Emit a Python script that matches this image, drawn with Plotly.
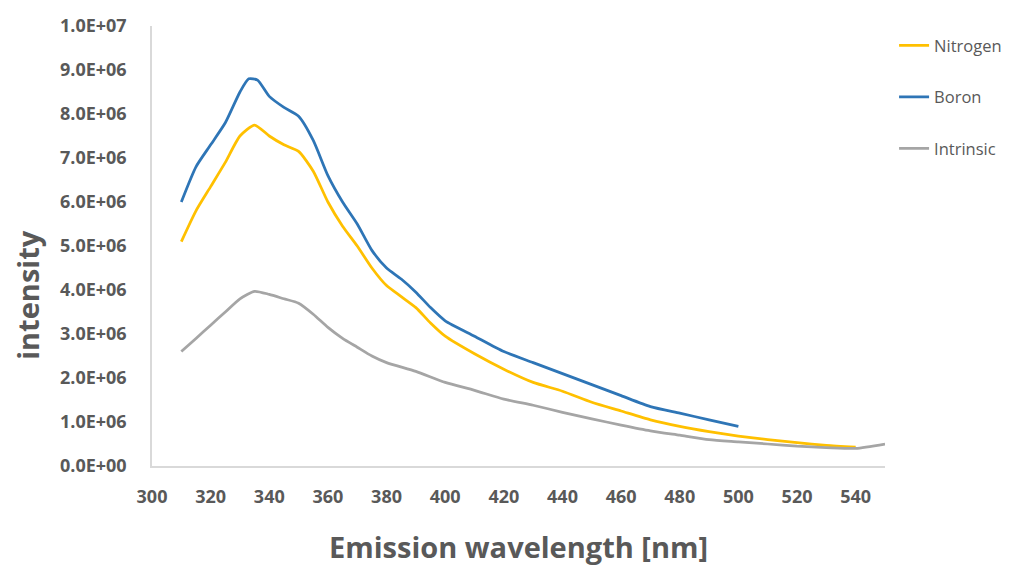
import plotly.graph_objects as go

# Data
wl_boron = [310, 315, 320, 325, 330, 333, 336, 340, 345, 350, 355, 360, 365, 370, 375, 380, 385, 390, 395, 400,
            410, 420, 430, 440, 450, 460, 470, 480, 490, 500]
boron = [6.0e6, 6.8e6, 7.3e6, 7.8e6, 8.5e6, 8.8e6, 8.77e6, 8.4e6, 8.15e6, 7.95e6, 7.4e6, 6.6e6, 6.0e6, 5.5e6,
         4.9e6, 4.5e6, 4.25e6, 3.95e6, 3.6e6, 3.3e6, 2.95e6, 2.6e6, 2.35e6, 2.1e6, 1.85e6, 1.6e6, 1.35e6,
         1.2e6, 1.05e6, 0.9e6]

wl_nitrogen = [310, 315, 320, 325, 330, 335, 340, 345, 350, 355, 360, 365, 370, 375, 380, 385, 390, 395, 400,
               410, 420, 430, 440, 450, 460, 470, 480, 490, 500, 510, 520, 530, 540]
nitrogen = [5.1e6, 5.8e6, 6.35e6, 6.9e6, 7.5e6, 7.75e6, 7.5e6, 7.3e6, 7.15e6, 6.7e6, 6.0e6, 5.45e6, 5.0e6,
            4.5e6, 4.1e6, 3.85e6, 3.6e6, 3.25e6, 2.95e6, 2.55e6, 2.2e6, 1.9e6, 1.7e6, 1.45e6, 1.25e6, 1.05e6,
            0.9e6, 0.78e6, 0.68e6, 0.6e6, 0.53e6, 0.47e6, 0.43e6]

wl_intrinsic = [310, 315, 320, 325, 330, 335, 340, 345, 350, 355, 360, 365, 370, 375, 380, 390, 400, 410, 420,
                430, 440, 450, 460, 470, 480, 490, 500, 510, 520, 530, 540, 550]
intrinsic = [2.6e6, 2.9e6, 3.2e6, 3.5e6, 3.8e6, 3.97e6, 3.9e6, 3.8e6, 3.7e6, 3.45e6, 3.15e6, 2.9e6, 2.7e6,
             2.5e6, 2.35e6, 2.15e6, 1.9e6, 1.72e6, 1.52e6, 1.38e6, 1.22e6, 1.07e6, 0.93e6, 0.8e6, 0.7e6,
             0.6e6, 0.55e6, 0.5e6, 0.45e6, 0.42e6, 0.4e6, 0.5e6]

x_ticks = list(range(300, 541, 20))
y_ticks = [i * 1e6 for i in range(0, 11)]
y_ticktext = [f"{v:.1E}" for v in y_ticks]

series = [
    ("Nitrogen", wl_nitrogen, nitrogen, "#FFC000"),
    ("Boron", wl_boron, boron, "#2E75B6"),
    ("Intrinsic", wl_intrinsic, intrinsic, "#A5A5A5"),
]

fig = go.Figure()
for name, xs, ys, col in series:
    fig.add_trace(go.Scatter(x=xs, y=ys, mode="lines", name=name, legendgroup=name,
                             line=dict(color=col, width=2.75, shape="spline", smoothing=0.6)))

tick_font = dict(family="Open Sans", size=18, color="#595959", weight="bold")
title_font = dict(family="Open Sans", size=29, color="#595959")

fig.update_layout(
    width=1018, height=565,
    margin=dict(l=152, r=132, t=26, b=99),
    paper_bgcolor="white", plot_bgcolor="white",
    showlegend=True,
    legend=dict(x=1.011, y=0.995, xanchor="left", yanchor="top",
                font=dict(family="Open Sans", size=16.5, color="#595959"),
                traceorder="grouped", tracegroupgap=27, itemwidth=30),
    xaxis=dict(range=[300, 550], tickvals=x_ticks, showgrid=False, zeroline=False,
               showline=True, linecolor="#D9D9D9", linewidth=1.5, ticks="",
               tickfont=tick_font, ticklabelstandoff=14),
    yaxis=dict(range=[0, 1e7], tickvals=y_ticks, ticktext=y_ticktext, showgrid=False, zeroline=False,
               showline=True, linecolor="#D9D9D9", linewidth=1.5, ticks="",
               tickfont=tick_font, ticklabelstandoff=20),
    annotations=[
        dict(text="<b>intensity</b>", xref="paper", yref="paper", x=-0.17, y=0.39,
             showarrow=False, textangle=-90, font=title_font, xanchor="center", yanchor="middle"),
        dict(text="<b>Emission wavelength [nm]</b>", xref="paper", yref="paper", x=0.5, y=-0.183,
             showarrow=False, font=title_font, xanchor="center", yanchor="middle"),
    ],
)

fig.write_html("out.html")
